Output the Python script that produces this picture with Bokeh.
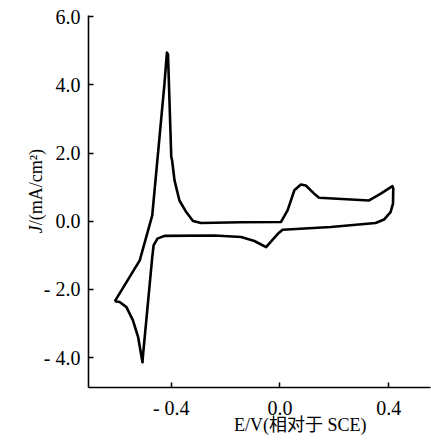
import math
from bokeh.plotting import figure
from bokeh.models import FixedTicker, Label, Range1d
from bokeh.embed import file_html
from bokeh.resources import INLINE

# Cyclic voltammogram, E (V vs SCE) and J (mA/cm^2)
E = [-0.608, -0.516, -0.470, -0.425, -0.416, -0.412, -0.400, -0.397, -0.388,
     -0.370, -0.345, -0.320, -0.290, -0.143, 0.004, 0.028, 0.053, 0.077,
     0.095, 0.126, 0.144, 0.328, 0.371, 0.414, 0.417, 0.416, 0.407, 0.383,
     0.352, 0.187, 0.010, -0.008, -0.051, -0.094, -0.143, -0.241, -0.425,
     -0.451, -0.465, -0.470, -0.504, -0.506, -0.522, -0.541, -0.565, -0.590,
     -0.608]
J = [-2.35, -1.15, 0.17, 4.04, 4.95, 4.90, 1.89, 1.79, 1.20,
     0.61, 0.27, 0.01, -0.05, -0.03, -0.02, 0.32, 0.91, 1.08,
     1.05, 0.81, 0.69, 0.61, 0.81, 1.03, 0.96, 0.52, 0.27, 0.05,
     -0.05, -0.17, -0.25, -0.37, -0.76, -0.58, -0.46, -0.42, -0.43,
     -0.51, -0.71, -1.05, -3.94, -4.14, -3.40, -2.91, -2.52, -2.37,
     -2.35]

x_ticks = [-0.4, 0.0, 0.4]
x_tick_labels = {-0.4: "- 0.4", 0.0: "0.0", 0.4: "0.4"}
y_ticks = [-4, -2, 0, 2, 4, 6]
y_tick_labels = {-4: "- 4.0", -2: "- 2.0", 0: "0.0", 2: "2.0", 4: "4.0", 6: "6.0"}

x_title = "E/V(相对于 SCE)"
y_title_sym = "J"
y_title_unit = "/(mA/cm²)"

SERIF = "Liberation Serif"
TITLE_FONT = "Liberation Serif, Noto Sans CJK SC"

p = figure(width=431, height=443,
           x_range=Range1d(-0.7046, 0.554), y_range=Range1d(-4.88, 6.04),
           output_backend="svg", toolbar_location=None,
           min_border_left=87, min_border_right=1,
           min_border_top=15, min_border_bottom=56)
p.outline_line_color = None
p.xgrid.visible = False
p.ygrid.visible = False

p.line(E, J, line_width=2.6, color="black", line_join="round")

for ax, ticks, labels in ((p.xaxis[0], x_ticks, x_tick_labels),
                          (p.yaxis[0], y_ticks, y_tick_labels)):
    ax.ticker = FixedTicker(ticks=ticks)
    ax.major_label_overrides = labels
    ax.major_tick_in = 5
    ax.major_tick_out = 0
    ax.minor_tick_line_color = None
    ax.axis_line_width = 1.6
    ax.major_tick_line_width = 1.5
    ax.axis_line_color = "black"
    ax.major_tick_line_color = "black"
    ax.major_label_text_font = SERIF
    ax.major_label_text_font_size = "20px"
    ax.major_label_text_color = "black"

p.yaxis[0].major_label_standoff = 8
p.xaxis[0].major_label_standoff = 9

# Axis titles as labels in the side panels, positioned through the plot scales
p.add_layout(Label(x=-0.899, y=-0.356, text=y_title_sym,
                   angle=math.pi / 2, text_align="left", text_baseline="middle",
                   text_font=SERIF, text_font_style="italic", text_font_size="18px",
                   text_color="black"), "left")
p.add_layout(Label(x=-0.899, y=-0.12, text=y_title_unit,
                   angle=math.pi / 2, text_align="left", text_baseline="middle",
                   text_font=SERIF, text_font_size="18px", text_color="black"), "left")

p.add_layout(Label(x=-0.169, y=-5.968, text=x_title,
                   text_align="left", text_baseline="middle",
                   text_font=TITLE_FONT, text_font_size="18px",
                   text_color="black"), "below")

open("out.html", "w").write(file_html(p, INLINE))
